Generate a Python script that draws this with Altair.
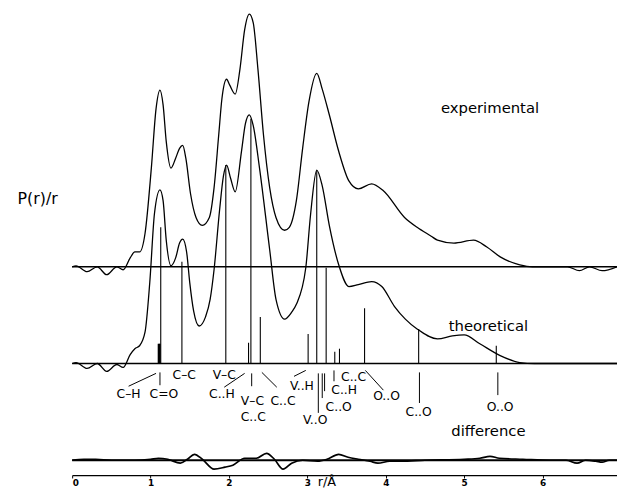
import altair as alt
import pandas as pd

# ---------------- data (P(r)/r in arbitrary units, r in Angstrom) ----------------
r_exp = [0.00, 0.05, 0.19, 0.32, 0.44, 0.57, 0.65, 0.74, 0.80, 0.86,
         0.93, 1.01, 1.07, 1.12, 1.16, 1.20, 1.26, 1.32, 1.37, 1.41,
         1.45, 1.51, 1.58, 1.66, 1.75, 1.81, 1.87, 1.91, 1.97, 2.01,
         2.08, 2.14, 2.20, 2.26, 2.31, 2.37, 2.44, 2.52, 2.60, 2.71,
         2.77, 2.86, 2.94, 3.02, 3.12, 3.19, 3.28, 3.40, 3.53, 3.65,
         3.82, 3.97, 4.24, 4.40, 4.58, 4.66, 4.87, 5.12, 5.29, 5.46,
         5.71, 5.87, 6.10, 6.32, 6.47, 6.60, 6.76, 6.95]
p_exp = [0, 1, -5, 0, -8, 0, -3, 9, 15, 15,
         34, 100, 160, 179, 164, 127, 100, 110, 120, 123,
         110, 74, 50, 42, 50, 80, 134, 170, 190, 184,
         175, 200, 240, 256, 247, 200, 134, 80, 50, 37,
         40, 67, 120, 167, 196, 180, 154, 117, 87, 79,
         84, 77, 50, 40, 31, 27, 24, 27, 20, 10,
         2, 0, 0, 0, -4, 0, -4, 0]

r_theo = [0.00, 0.05, 0.19, 0.32, 0.44, 0.57, 0.65, 0.74, 0.80, 0.86,
          0.93, 0.99, 1.05, 1.12, 1.16, 1.20, 1.26, 1.32, 1.37, 1.41,
          1.46, 1.50, 1.55, 1.62, 1.70, 1.76, 1.81, 1.88, 1.93, 1.97,
          2.02, 2.08, 2.16, 2.21, 2.26, 2.31, 2.39, 2.52, 2.60, 2.71,
          2.80, 2.86, 2.98, 3.04, 3.12, 3.19, 3.28, 3.40, 3.53, 3.65,
          3.82, 3.95, 4.11, 4.25, 4.40, 4.66, 4.85, 5.00, 5.20, 5.46,
          5.71, 5.90, 6.95]
p_theo = [0, 1, -5, 0, -8, -1, -4, 9, 15, 18,
          32, 82, 152, 176, 165, 125, 99, 107, 122, 126,
          113, 82, 53, 38, 47, 65, 95, 155, 190, 201,
          188, 174, 215, 243, 252, 241, 198, 115, 65, 45,
          52, 60, 97, 150, 196, 180, 140, 100, 78, 80,
          83, 78, 58, 45, 35, 25, 28, 29, 20, 8,
          1, 0, 0]

r_diff = [0.00, 0.15, 0.30, 0.50, 0.80, 1.00, 1.10, 1.22, 1.38, 1.47,
          1.56, 1.66, 1.81, 1.95, 2.05, 2.20, 2.35, 2.48, 2.58, 2.69,
          2.80, 2.94, 3.13, 3.25, 3.40, 3.52, 3.65, 3.80, 3.90, 4.05,
          4.20, 4.50, 5.00, 5.20, 5.33, 5.45, 5.75, 6.10, 6.30, 6.44,
          6.55, 6.68, 6.76, 6.85, 6.95]
p_diff = [0, 1, 1, 0, 0, 1, 2, 1, -3, 1,
          6, 1, -9, -7, -5, 2, 2, 7, 1, -9,
          -3, 0, -1, 1, 6, 3, 1, -1, -3, -1,
          -1, 0, 1, 2, 4, 2, 1, 0, 0, -3,
          0, -1, -2, 0, 0]

# theoretical distance sticks
stick_r = [1.11, 1.13, 1.40, 1.96, 2.25, 2.28, 2.40, 3.01, 3.12, 3.24,
           3.35, 3.41, 3.73, 4.42, 5.41]
stick_h = [20, 138, 103, 201, 21, 248, 47, 30, 195, 97,
           12, 15, 56, 35, 18]

# distance labels: text, r position, depth below theoretical baseline
lab_text = ["C\u2013H", "C=O", "C\u2013C", "V\u2013C", "C..H", "V\u2013C", "C..C",
            "C..C", "V..H", "V..O", "C..O", "C..H", "C..C", "O..O", "C..O", "O..O"]
lab_r = [0.72, 1.17, 1.43, 1.94, 1.91, 2.30, 2.31, 2.69, 2.93, 3.10,
         3.40, 3.47, 3.59, 4.01, 4.42, 5.46]
lab_d = [31, 31, 12, 12, 31, 38, 54, 38, 23, 57,
         44, 27, 14, 33, 49, 44]

# leader lines: r1, depth1, r2, depth2
lead_r1 = [0.72, 1.12, 1.94, 2.29, 2.42, 2.83, 3.14, 3.19, 3.22, 3.34, 3.74, 4.43, 5.43]
lead_d1 = [23, 9, 24, 10, 9, 13, 10, 10, 10, 7, 7, 9, 9]
lead_r2 = [1.07, 1.12, 2.20, 2.29, 2.61, 2.98, 3.14, 3.19, 3.22, 3.34, 3.97, 4.43, 5.43]
lead_d2 = [10, 22, 10, 23, 24, 7, 50, 35, 28, 18, 27, 40, 32]

series_names = ["experimental", "theoretical", "difference"]
x_ticks = [0, 1, 2, 3, 4, 5, 6]

# ---------------- layout constants ----------------
R_MAX = 6.95
EXP_BASE, THEO_BASE, DIFF_BASE = 211, 113, 15
FONT = "DejaVu Sans"

xs = alt.Scale(domain=[0, R_MAX], nice=False, zero=False)
ys = alt.Scale(domain=[0, 470], nice=False, zero=False)

exp_df = pd.DataFrame({"r": r_exp, "y": [v + EXP_BASE for v in p_exp]})
theo_df = pd.DataFrame({"r": r_theo, "y": [v + THEO_BASE for v in p_theo]})
diff_df = pd.DataFrame({"r": r_diff, "y": [v + DIFF_BASE for v in p_diff]})
base_df = pd.DataFrame({"y": [EXP_BASE, THEO_BASE, DIFF_BASE], "w": [1.4, 1.4, 2.2]})
stick_df = pd.DataFrame({"r": stick_r, "y1": THEO_BASE,
                         "y2": [THEO_BASE + h for h in stick_h]})
lab_df = pd.DataFrame({"t": lab_text, "r": lab_r, "y": [THEO_BASE - d for d in lab_d]})
lead_df = pd.DataFrame({"r1": lead_r1, "r2": lead_r2,
                        "y1": [THEO_BASE - d for d in lead_d1],
                        "y2": [THEO_BASE - d for d in lead_d2]})
name_df = pd.DataFrame({"t": series_names, "r": [5.33, 5.31, 5.31],
                        "y": [EXP_BASE + 161, THEO_BASE + 38, DIFF_BASE + 30]})

X = lambda f: alt.X(f, type="quantitative", scale=xs,
                    axis=alt.Axis(values=x_ticks, format="d", title=None, grid=False,
                                  labelFont=FONT, labelFontWeight="bold", labelFontSize=9,
                                  labelColor="black", tickColor="black", domainColor="black",
                                  tickSize=3, labelPadding=1, domainWidth=1.2))
Y = lambda f: alt.Y(f, type="quantitative", scale=ys, axis=None)

line_style = dict(color="black", strokeWidth=1.3, interpolate="monotone")
exp_line = alt.Chart(exp_df).mark_line(**line_style).encode(x=X("r"), y=Y("y"))
theo_line = alt.Chart(theo_df).mark_line(**line_style).encode(x=X("r"), y=Y("y"))
diff_line = alt.Chart(diff_df).mark_line(color="black", strokeWidth=1.7,
                                         interpolate="monotone").encode(x=X("r"), y=Y("y"))

baselines = alt.Chart(base_df).mark_rule(color="black").encode(
    x=alt.datum(0, scale=xs), x2=alt.datum(R_MAX), y=Y("y"),
    strokeWidth=alt.StrokeWidth("w:Q", scale=None, legend=None))

sticks = alt.Chart(stick_df).mark_rule(color="black", strokeWidth=1.1).encode(
    x=X("r"), y=Y("y1"), y2="y2")
thick = alt.Chart(stick_df.iloc[[0]]).mark_rule(color="black", strokeWidth=3).encode(
    x=X("r"), y=Y("y1"), y2="y2")

leaders = alt.Chart(lead_df).mark_rule(color="black", strokeWidth=1).encode(
    x=X("r1"), x2="r2", y=Y("y1"), y2="y2")

labels = alt.Chart(lab_df).mark_text(font=FONT, fontSize=12.5, color="black",
                                     baseline="middle", align="center").encode(
    x=X("r"), y=Y("y"), text="t")

names = alt.Chart(name_df).mark_text(font=FONT, fontSize=15, color="black",
                                     baseline="middle", align="center").encode(
    x=X("r"), y=Y("y"), text="t")

ylab = alt.Chart(pd.DataFrame({"t": ["P(r)/r"]})).mark_text(
    font=FONT, fontSize=16, color="black", baseline="middle", align="center").encode(
    x=alt.datum(-0.44, scale=xs), y=alt.datum(280, scale=ys), text="t")

xlab = alt.Chart(pd.DataFrame({"t": ["r/\u00c5"]})).mark_text(
    font=FONT, fontSize=13, color="black", baseline="bottom", align="center").encode(
    x=alt.datum(3.25, scale=xs), y=alt.datum(-14, scale=ys), text="t")

chart = alt.layer(baselines, exp_line, theo_line, diff_line, sticks, thick, leaders,
                  labels, names, ylab, xlab).properties(
    width=552, height=470,
    autosize=alt.AutoSizeParams(type="none"),
    padding={"left": 65, "top": 0, "right": 0, "bottom": 14},
    background="white",
).configure_view(stroke=None, strokeWidth=0)

chart.save("out.html", embed_options={"renderer": "svg", "actions": False})
